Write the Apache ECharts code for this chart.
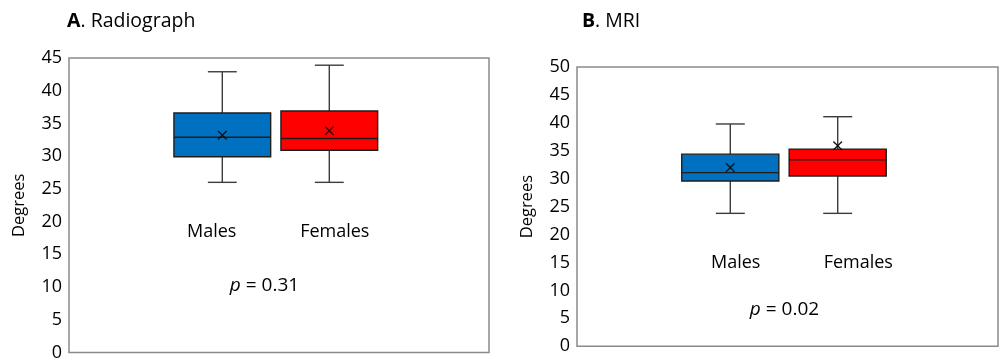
<!DOCTYPE html>
<html><head><meta charset="utf-8">
<script src="https://cdn.jsdelivr.net/npm/echarts@6/dist/echarts.min.js"></script>
<style>html,body{margin:0;padding:0;background:#fff;overflow:hidden}#c{width:1003px;height:358px}</style>
</head><body><div id="c"></div>
<script>
// ---- data ----
const categories = ['', 'Males', 'Females', ''];
const groupIndex = [1, 2];                 // position of Males / Females in categories
const groupLabels = ['Males', 'Females'];
// [min, Q1, median, Q3, max]
const radiographStats = [[26.0, 29.9, 32.9, 36.6, 42.9], [26.0, 30.9, 32.7, 36.9, 43.9]];
const radiographMeans = [33.2, 33.9];
const mriStats = [[23.8, 29.6, 31.1, 34.4, 39.8], [23.8, 30.5, 33.4, 35.3, 41.1]];
const mriMeans = [32.0, 35.9];
const pTexts = ['0.31', '0.02'];
const titles = [['A', '. Radiograph'], ['B', '. MRI']];
const boxColors = ['#0070C0', '#FF0000'];

const FONT = 'Open Sans';

function buildData(stats, means) {
  return stats.map((s, i) => [groupIndex[i]].concat(s, [means[i]]));
}

function renderBox(params, api) {
  const ci = api.value(0);
  const p = i => api.coord([ci, api.value(i)]);
  const pMin = p(1), pQ1 = p(2), pMed = p(3), pQ3 = p(4), pMax = p(5), pMean = p(6);
  const cx = pMin[0];
  const band = api.size([1, 0])[0];
  const hw = band * 0.452, cw = band * 0.135, m = 4.3;
  const wl = {stroke: '#3c3c3c', lineWidth: 1.4, fill: null};
  const bl = {stroke: '#1e1e1e', lineWidth: 1.4, fill: null};
  return {type: 'group', children: [
    {type: 'line', shape: {x1: cx, y1: pQ3[1], x2: cx, y2: pMax[1]}, style: wl},
    {type: 'line', shape: {x1: cx - cw, y1: pMax[1], x2: cx + cw, y2: pMax[1]}, style: wl},
    {type: 'line', shape: {x1: cx, y1: pQ1[1], x2: cx, y2: pMin[1]}, style: wl},
    {type: 'line', shape: {x1: cx - cw, y1: pMin[1], x2: cx + cw, y2: pMin[1]}, style: wl},
    {type: 'rect', shape: {x: cx - hw, y: pQ3[1], width: 2 * hw, height: pQ1[1] - pQ3[1]},
      style: {fill: boxColors[params.dataIndex], stroke: '#1e1e1e', lineWidth: 1.4}},
    {type: 'line', shape: {x1: cx - hw, y1: pMed[1], x2: cx + hw, y2: pMed[1]}, style: bl},
    {type: 'line', shape: {x1: pMean[0] - m, y1: pMean[1] - m, x2: pMean[0] + m, y2: pMean[1] + m}, style: {stroke: '#111', lineWidth: 1.3}},
    {type: 'line', shape: {x1: pMean[0] - m, y1: pMean[1] + m, x2: pMean[0] + m, y2: pMean[1] - m}, style: {stroke: '#111', lineWidth: 1.3}}
  ]};
}

const panels = [
  {frame: {left: 69, top: 58, width: 420, height: 294.5}, box: {left: 61.8, width: 428}, max: 45,
   stats: radiographStats, means: radiographMeans,
   labelPos: [[211.7, 232.3], [334.8, 232.3]], pPos: [264.5, 286], titlePos: [67, 21]},
  {frame: {left: 577, top: 67, width: 421, height: 279.3}, box: {left: 569.2, width: 429.6}, max: 50,
   stats: mriStats, means: mriMeans,
   labelPos: [[735.7, 263.3], [858.3, 263.3]], pPos: [784.5, 310], titlePos: [582, 21]}
];

const grid = [], xAxis = [], yAxis = [], series = [], graphic = [];
panels.forEach((pn, k) => {
  const gi = grid.length;
  grid.push({left: pn.frame.left, top: pn.frame.top, width: pn.frame.width, height: pn.frame.height,
    show: true, borderColor: '#8a8a8a', borderWidth: 1.5, backgroundColor: 'transparent',
    containLabel: false, outerBoundsMode: 'none'});
  grid.push({left: pn.box.left, top: pn.frame.top, width: pn.box.width, height: pn.frame.height,
    containLabel: false, outerBoundsMode: 'none'});
  xAxis.push({gridIndex: gi, type: 'category', data: [''], show: false});
  xAxis.push({gridIndex: gi + 1, type: 'category', data: categories, show: false});
  yAxis.push({gridIndex: gi, type: 'value', min: 0, max: pn.max, interval: 5,
    axisLine: {show: false}, axisTick: {show: false}, splitLine: {show: false},
    axisLabel: {fontFamily: FONT, fontSize: 18, color: '#000', margin: 7},
    name: 'Degrees', nameLocation: 'middle', nameGap: 41,
    nameTextStyle: {fontFamily: FONT, fontSize: 16.5, color: '#000'}});
  yAxis.push({gridIndex: gi + 1, type: 'value', min: 0, max: pn.max, show: false});
  series.push({type: 'custom', xAxisIndex: gi + 1, yAxisIndex: gi + 1,
    data: buildData(pn.stats, pn.means), renderItem: renderBox,
    encode: {x: 0, y: [1, 2, 3, 4, 5, 6]}, silent: true, clip: false});
  groupLabels.forEach((g, i) => {
    graphic.push({type: 'text', x: pn.labelPos[i][0], y: pn.labelPos[i][1],
      style: {text: g, fontFamily: FONT, fontSize: 18, fill: '#000', align: 'center', verticalAlign: 'middle'}});
  });
  graphic.push({type: 'text', x: pn.pPos[0], y: pn.pPos[1],
    style: {text: '{i|p} = ' + pTexts[k], fontFamily: FONT, fontSize: 19, fill: '#000', align: 'center', verticalAlign: 'middle',
      rich: {i: {fontStyle: 'italic', fontFamily: FONT, fontSize: 19, fill: '#000'}}}});
  graphic.push({type: 'text', x: pn.titlePos[0], y: pn.titlePos[1],
    style: {text: '{b|' + titles[k][0] + '}' + titles[k][1], fontFamily: FONT, fontSize: 19.5, fill: '#000', align: 'left', verticalAlign: 'middle',
      rich: {b: {fontWeight: 'bold', fontFamily: FONT, fontSize: 19.5, fill: '#000'}}}});
});

const chart = echarts.init(document.getElementById('c'), null, {renderer: 'canvas'});
chart.setOption({animation: false, backgroundColor: '#fff', grid, xAxis, yAxis, series, graphic});
</script>
</body></html>
